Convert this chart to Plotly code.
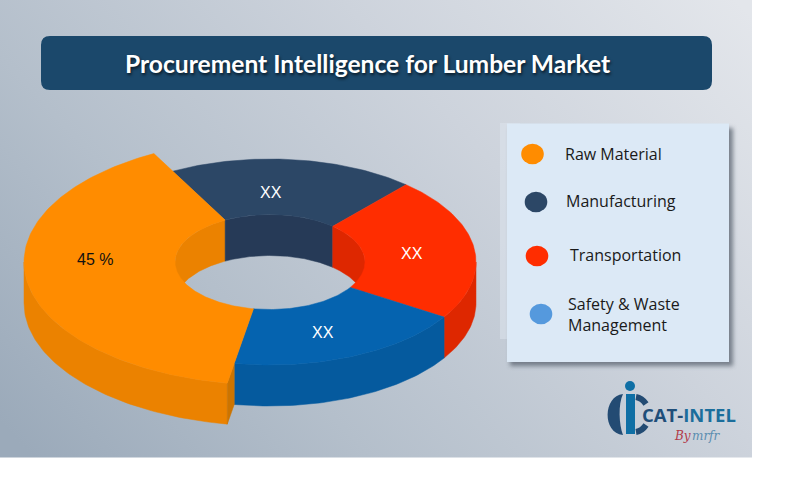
import base64
import numpy as np
import plotly.graph_objects as go

# ---- data ----
categories = ["Raw Material", "Manufacturing", "Transportation", "Safety & Waste<br>Management"]
slice_shares = [39.4, 19.3, 22.5, 18.8]          # drawn angular shares, clockwise
slice_labels = ["45 %", "XX", "XX", "XX"]
title_text = "Procurement Intelligence for Lumber Market"

# ---- styles ----
top_colors = ["#FF8C00", "#2C4766", "#FF2D00", "#0563AF"]
side_colors = ["#EB8200", "#263A57", "#DE2700", "#055A9E"]
legend_colors = ["#FF8C00", "#2C4766", "#FF2D00", "#5599DD"]
label_colors = ["#111111", "#FFFFFF", "#FFFFFF", "#FFFFFF"]
label_pos = [(95, 259), (271, 192), (412, 253), (323, 332)]
legend_marker_pos = [(532.5, 154), (536, 202), (537, 256), (541, 314)]
legend_text_pos = [(563, 154), (564, 201), (568, 255), (566, 314)]
radii = [246, 206, 206, 206]
CX, CY, INNER, SQUASH, DEPTH, FIRST_EDGE = 270, 262, 95, 0.5, 41, 190

W, H = 798, 479

# ---- background as inline svg ----
svg = f'''<svg xmlns="http://www.w3.org/2000/svg" width="{W}" height="{H}" viewBox="0 0 {W} {H}">
<defs>
<linearGradient id="g" gradientUnits="userSpaceOnUse" x1="700" y1="-40" x2="90" y2="520">
<stop offset="0" stop-color="#E3E6EB"/><stop offset="0.35" stop-color="#CDD3DC"/>
<stop offset="0.7" stop-color="#B4BFCB"/><stop offset="1" stop-color="#9BAABA"/></linearGradient>
<filter id="b" x="-10%" y="-10%" width="120%" height="120%"><feGaussianBlur stdDeviation="2.2"/></filter>
</defs>
<rect width="{W}" height="{H}" fill="#FFFFFF"/>
<rect x="0" y="0" width="752" height="457.5" fill="url(#g)"/>
<rect x="500" y="123" width="20" height="216" fill="#DCE3EC" opacity="0.55"/>
<rect x="510" y="128" width="223" height="238" fill="#5A6470" opacity="0.75" filter="url(#b)"/>
</svg>'''
bg = "data:image/svg+xml;base64," + base64.b64encode(svg.encode()).decode()


def pt(angle_deg, r, dz=0.0):
    a = np.radians(angle_deg)
    return CX + r * np.sin(a), CY - r * SQUASH * np.cos(a) + dz


def arc(a0, a1, r, dz=0.0):
    n = max(2, int(abs(a1 - a0)) + 2)
    return pt(np.linspace(a0, a1, n), r, dz)


def poly(xs, ys, color):
    return go.Scatter(x=np.r_[xs, xs[0]], y=np.r_[ys, ys[0]], mode="lines", fill="toself",
                      fillcolor=color, line=dict(width=0.5, color=color),
                      hoverinfo="skip", showlegend=False)


def band(a0, a1, r, color):
    x0, y0 = arc(a0, a1, r)
    x1, y1 = arc(a1, a0, r, DEPTH)
    return poly(np.r_[x0, x1], np.r_[y0, y1], color)


def overlap(a0, a1, lo, hi):
    for k in (-360, 0, 360):
        s, e = max(a0 + k, lo), min(a1 + k, hi)
        if e > s:
            yield s, e


spans = []
a = FIRST_EDGE
for s in slice_shares:
    e = a + s / sum(slice_shares) * 360
    spans.append((a, e))
    a = e

fig = go.Figure()

# far inner walls of the hole
for (a0, a1), c in zip(spans, side_colors):
    for s, e in overlap(a0, a1, 270, 450):
        fig.add_trace(band(s, e, INNER, c))

# near outer walls, wide slice last
for i in (2, 3, 1, 0):
    for s, e in overlap(*spans[i], 90, 270):
        fig.add_trace(band(s, e, radii[i], side_colors[i]))

# cut face of the wide slice where it stands proud of its neighbours
ax0, ay0 = pt(spans[0][0], radii[1])
ax1, ay1 = pt(spans[0][0], radii[0])
fig.add_trace(poly(np.array([ax1, ax0, ax0, ax1]),
                   np.array([ay1, ay0, ay0 + DEPTH, ay1 + DEPTH]), "#CC7400"))

# top faces
for i in (1, 2, 3, 0):
    a0, a1 = spans[i]
    xo, yo = arc(a0, a1, radii[i])
    xi, yi = arc(a1, a0, INNER)
    fig.add_trace(poly(np.r_[xo, xi], np.r_[yo, yi], top_colors[i]))

annotations = []
for t, c, (x, y) in zip(slice_labels, label_colors, label_pos):
    annotations.append(dict(x=x, y=y, text=t, showarrow=False,
                            font=dict(family="Liberation Sans", size=16, color=c)))
for t, (x, y) in zip(categories, legend_text_pos):
    annotations.append(dict(x=x, y=y, text=t, showarrow=False, xanchor="left", align="left",
                            font=dict(family="Open Sans", size=16, color="#1A1A1A")))
annotations.append(dict(x=368, y=63, text=f"<b>{title_text}</b>", showarrow=False,
                        font=dict(family="Lato", size=24.6, color="#FFFFFF",
                                  shadow="1px 2px 3px rgba(0,0,0,0.65)")))
annotations += [
    dict(x=640, y=414, text="<b>CAT-<span style='color:#1B6E9C'>INTEL</span></b>",
         showarrow=False, xanchor="left",
         font=dict(family="Open Sans", size=18.5, color="#1F4E79")),
    dict(x=672, y=436, text="<i>By</i>", showarrow=False, xanchor="left",
         font=dict(family="DejaVu Serif", size=12, color="#B23A48")),
    dict(x=690, y=436, text="<i>mrfr</i>", showarrow=False, xanchor="left",
         font=dict(family="DejaVu Serif", size=12, color="#5A8DB0")),
]

shapes = [
    # title banner
    dict(type="path", line_width=0, fillcolor="#1B486B",
         path="M 49 36 L 703 36 Q 712 36 712 45 L 712 81 Q 712 90 703 90 "
              "L 50 90 Q 41 90 41 81 L 41 45 Q 41 36 50 36 Z"),
    # legend panel
    dict(type="rect", x0=507, x1=729, y0=123.5, y1=362, line_width=0, fillcolor="#DCE9F6"),
    # logo
    dict(type="path", line_width=0, fillcolor="#234B73",
         path="M 623 394 C 603 396 602 433 623 435 C 619 425 618 404 623 394 Z"),
    dict(type="path", line=dict(color="#234B73", width=6),
         path="M 636 397 Q 642 398 646 404"),
    dict(type="path", line=dict(color="#234B73", width=6),
         path="M 636 432 Q 642 431 646 425"),
    dict(type="rect", x0=626, x1=635, y0=394, y1=434, line_width=0, fillcolor="#0F6FA5"),
    dict(type="circle", x0=625, x1=635, y0=381, y1=391, line_width=0, fillcolor="#0F6FA5"),
]
for c, (x, y) in zip(legend_colors, legend_marker_pos):
    shapes.append(dict(type="circle", x0=x - 11.3, x1=x + 11.3, y0=y - 10.3, y1=y + 10.3,
                       line_width=0, fillcolor=c))

fig.update_layout(
    width=W, height=H, margin=dict(l=0, r=0, t=0, b=0),
    paper_bgcolor="#FFFFFF", plot_bgcolor="rgba(0,0,0,0)",
    xaxis=dict(range=[0, W], visible=False, fixedrange=True),
    yaxis=dict(range=[H, 0], visible=False, fixedrange=True),
    images=[dict(source=bg, xref="paper", yref="paper", x=0, y=1, sizex=1, sizey=1,
                 sizing="stretch", xanchor="left", yanchor="top", layer="below")],
    shapes=shapes, annotations=annotations, showlegend=False,
)
fig.write_html("out.html", config={"displayModeBar": False},
               post_script="document.body.style.margin='0';")
